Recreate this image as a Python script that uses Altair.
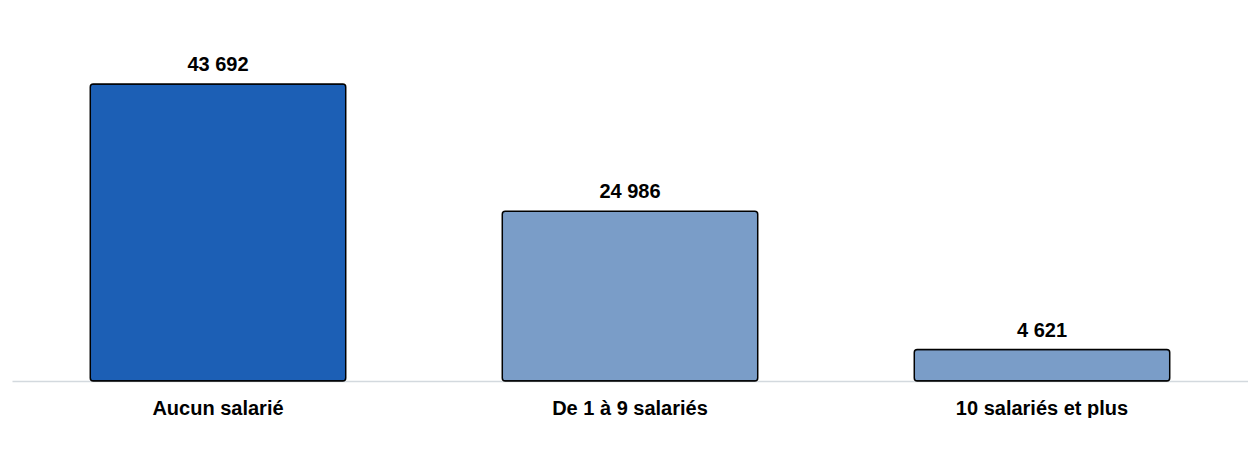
import altair as alt
import pandas as pd

categories = ["Aucun salarié", "De 1 à 9 salariés", "10 salariés et plus"]
values = [43692, 24986, 4621]
labels = ["43 692", "24 986", "4 621"]
colors = ["#1c5fb5", "#7a9dc8", "#7a9dc8"]

df = pd.DataFrame({"cat": categories, "val": values, "lab": labels, "col": colors})

x = alt.X("cat:N", sort=categories, title=None,
          scale=alt.Scale(paddingInner=0.38, paddingOuter=0.19),
          axis=alt.Axis(labelAngle=0, labelFont="Liberation Sans", labelFontSize=20,
                        labelFontWeight="bold", labelColor="#000000", labelPadding=17,
                        ticks=False, domainColor="#d3d9de", domainWidth=1.5))
y = alt.Y("val:Q", title=None, scale=alt.Scale(domain=[0, 54870], nice=False),
          axis=None)

bars = alt.Chart(df).mark_bar(stroke="#000000", strokeWidth=1.5, cornerRadius=3).encode(
    x=x, y=y, color=alt.Color("col:N", scale=None))

text = alt.Chart(df).mark_text(dy=-9, baseline="bottom", font="Liberation Sans",
                               fontSize=20, fontWeight="bold", color="#000000").encode(
    x=alt.X("cat:N", sort=categories), y="val:Q", text="lab:N")

chart = (bars + text).properties(
    width=1236, height=373,
    padding={"left": 4, "top": 0, "right": 0, "bottom": 0},
).configure_view(stroke=None)

chart.save("out.html", embed_options={"renderer": "svg", "actions": False})
